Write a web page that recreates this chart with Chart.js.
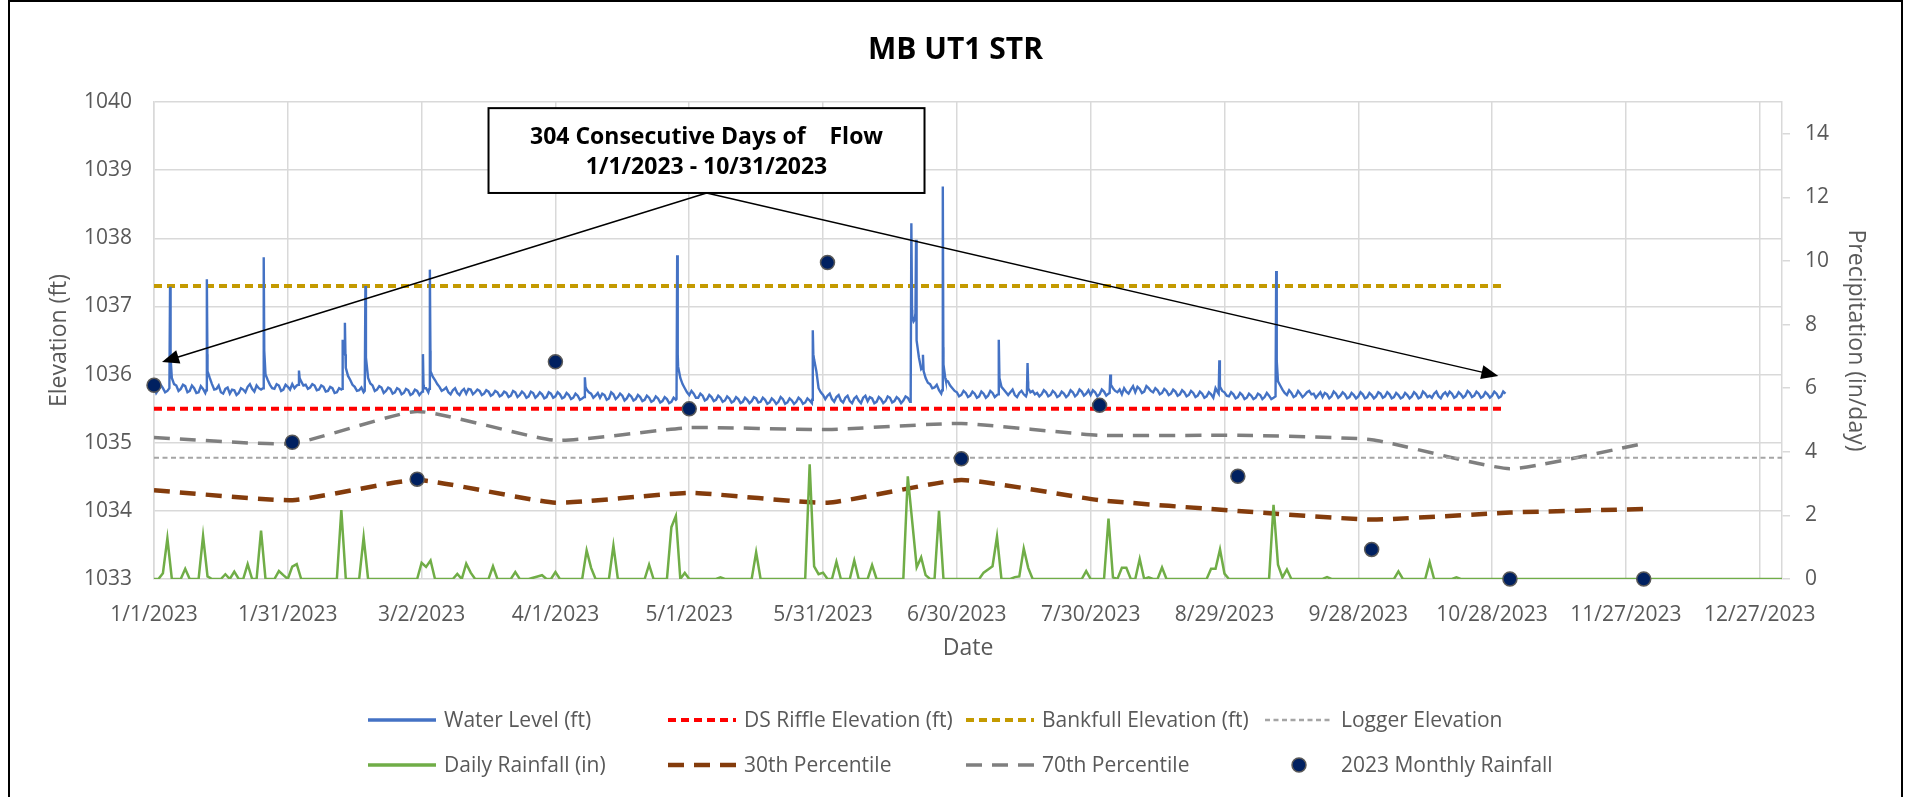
<!DOCTYPE html>
<html>
<head>
<meta charset="utf-8">
<title>MB UT1 STR</title>
<script src="https://cdn.jsdelivr.net/npm/chart.js@4.4.1/dist/chart.umd.min.js"></script>
<style>
  body { margin: 0; background: #fff; }
  canvas { display: block; }
</style>
</head>
<body>
<canvas id="myChart" width="1911" height="797"></canvas>
<script>
const FONT = "'Open Sans', sans-serif";
const startDate = Date.UTC(2023, 0, 1);

// water level (ft), morning reading per day, day 0 = 1/1/2023
const levelBase = [
  1035.83, 1035.78, 1035.80, 1035.76, 1035.95, 1035.84, 1035.79, 1035.83, 1035.76, 1035.80,
  1035.74, 1035.79, 1036.05, 1035.86, 1035.79, 1035.74, 1035.79, 1035.72, 1035.77, 1035.73,
  1035.78, 1035.82, 1035.79, 1035.84, 1035.78, 1036.00, 1035.85, 1035.79, 1035.84, 1035.78,
  1035.82, 1035.86, 1035.84, 1035.90, 1035.85, 1035.81, 1035.84, 1035.78, 1035.82, 1035.76,
  1035.80, 1035.74, 1035.78, 1036.10, 1035.92, 1035.82, 1035.77, 1035.74, 1035.95, 1035.84,
  1035.78, 1035.81, 1035.76, 1035.79, 1035.74, 1035.78, 1035.73, 1035.77, 1035.72, 1035.76,
  1035.74, 1035.80, 1036.05, 1035.92, 1035.82, 1035.78, 1035.74, 1035.77, 1035.73, 1035.76,
  1035.72, 1035.78, 1035.74, 1035.76, 1035.72, 1035.75, 1035.71, 1035.74, 1035.70, 1035.73,
  1035.69, 1035.74, 1035.70, 1035.72, 1035.68, 1035.73, 1035.69, 1035.71, 1035.67, 1035.72,
  1035.68, 1035.71, 1035.67, 1035.70, 1035.66, 1035.69, 1035.65, 1035.78, 1035.72, 1035.69,
  1035.66, 1035.70, 1035.65, 1035.71, 1035.67, 1035.69, 1035.65, 1035.68, 1035.64, 1035.67,
  1035.63, 1035.66, 1035.62, 1035.65, 1035.61, 1035.64, 1035.60, 1035.63, 1035.95, 1035.80,
  1035.70, 1035.72, 1035.66, 1035.69, 1035.64, 1035.67, 1035.63, 1035.66, 1035.62, 1035.65,
  1035.61, 1035.64, 1035.60, 1035.63, 1035.61, 1035.65, 1035.60, 1035.63, 1035.59, 1035.62,
  1035.60, 1035.64, 1035.59, 1035.62, 1035.60, 1035.63, 1035.59, 1035.62, 1036.22, 1035.80,
  1035.70, 1035.69, 1035.64, 1035.67, 1035.62, 1035.66, 1035.61, 1035.65, 1035.62, 1035.66,
  1035.61, 1035.65, 1035.60, 1035.64, 1035.61, 1035.66, 1035.61, 1035.64, 1035.62, 1035.66,
  1036.85, 1036.50, 1036.08, 1035.95, 1035.86, 1035.81, 1035.77, 1036.15, 1035.90, 1035.80,
  1035.74, 1035.70, 1035.73, 1035.69, 1035.72, 1035.68, 1035.72, 1035.69, 1035.73, 1035.70,
  1035.82, 1035.74, 1035.74, 1035.70, 1035.73, 1035.71, 1035.80, 1035.76, 1035.73, 1035.71,
  1035.74, 1035.70, 1035.73, 1035.69, 1035.72, 1035.70, 1035.74, 1035.71, 1035.75, 1035.72,
  1035.70, 1035.74, 1035.71, 1035.75, 1035.72, 1035.80, 1035.74, 1035.71, 1035.75, 1035.78,
  1035.74, 1035.79, 1035.75, 1035.80, 1035.74, 1035.77, 1035.73, 1035.76, 1035.72, 1035.75,
  1035.71, 1035.74, 1035.70, 1035.73, 1035.69, 1035.72, 1035.68, 1035.71, 1035.80, 1035.82,
  1035.74, 1035.68, 1035.71, 1035.67, 1035.70, 1035.66, 1035.69, 1035.66, 1035.70, 1035.67,
  1035.69, 1035.66, 1035.90, 1035.78, 1035.70, 1035.73, 1035.69, 1035.72, 1035.70, 1035.76,
  1035.72, 1035.70, 1035.67, 1035.71, 1035.68, 1035.72, 1035.69, 1035.71, 1035.67, 1035.70,
  1035.68, 1035.71, 1035.67, 1035.70, 1035.68, 1035.72, 1035.68, 1035.71, 1035.67, 1035.70,
  1035.67, 1035.70, 1035.68, 1035.71, 1035.67, 1035.72, 1035.69, 1035.72, 1035.68, 1035.71,
  1035.69, 1035.72, 1035.68, 1035.71, 1035.69, 1035.73, 1035.69, 1035.72, 1035.68, 1035.71,
  1035.69, 1035.72, 1035.68, 1035.72
];

// evening reading, day i + 0.5 (null where a storm point covers it)
const levelHalf = [
  1035.73, 1035.85, 1035.74, null, 1035.86, 1035.76, 1035.85, 1035.74, 1035.84, 1035.73,
  1035.83, 1035.73, 1035.95, 1035.78, 1035.84, 1035.72, 1035.81, 1035.78, 1035.70, 1035.80,
  1035.74, 1035.86, 1035.75, 1035.80, null, 1035.92, 1035.80, 1035.86, 1035.76, 1035.85,
  1035.78, 1035.80, null, 1035.84, 1035.79, 1035.86, 1035.77, 1035.84, 1035.75, 1035.82,
  1035.73, 1035.80, 1036.38, 1035.98, 1035.85, 1035.76, 1035.81, null, 1035.87, 1035.76,
  1035.83, 1035.73, 1035.81, 1035.72, 1035.80, 1035.71, 1035.79, 1035.70, 1035.78, 1035.70,
  1035.80, 1035.74, 1035.97, 1035.86, 1035.76, 1035.81, 1035.71, 1035.80, 1035.70, 1035.79,
  1035.79, 1035.71, 1035.78, 1035.70, 1035.77, 1035.69, 1035.76, 1035.68, 1035.75, 1035.67,
  1035.76, 1035.67, 1035.75, 1035.66, 1035.75, 1035.66, 1035.74, 1035.65, 1035.74, 1035.66,
  1035.74, 1035.65, 1035.73, 1035.64, 1035.72, 1035.63, null, 1035.74, 1035.66, 1035.73,
  1035.72, 1035.63, 1035.74, 1035.64, 1035.72, 1035.62, 1035.71, 1035.62, 1035.70, 1035.61,
  1035.69, 1035.60, 1035.68, 1035.59, 1035.67, 1035.58, 1035.66, 1036.12, 1035.86, 1035.74,
  1035.76, 1035.66, 1035.72, 1035.62, 1035.70, 1035.61, 1035.69, 1035.60, 1035.68, 1035.59,
  1035.67, 1035.58, 1035.66, 1035.58, 1035.67, 1035.59, 1035.66, 1035.57, 1035.65, 1035.57,
  1035.67, 1035.57, 1035.65, 1035.57, 1035.66, 1035.57, 1035.65, 1035.58, null, 1035.74,
  1035.64, 1035.72, 1035.60, 1035.70, 1035.59, 1035.69, 1035.58, 1035.68, 1035.58, 1035.69,
  1035.67, 1035.58, 1035.67, 1035.58, 1035.68, 1035.59, 1035.67, 1035.58, 1035.68, 1035.60,
  1036.80, null, null, 1035.88, 1035.80, 1035.85, 1035.72, 1035.92, 1035.84, 1035.76,
  1035.68, 1035.76, 1035.67, 1035.75, 1035.66, 1035.75, 1035.66, 1035.76, 1035.67, null,
  1035.78, 1035.70, 1035.78, 1035.67, 1035.76, 1035.68, 1035.74, 1035.71, 1035.68, 1035.77,
  1035.68, 1035.76, 1035.67, 1035.75, 1035.67, 1035.77, 1035.68, 1035.78, 1035.69, 1035.77,
  1035.77, 1035.68, 1035.78, 1035.69, null, 1035.76, 1035.78, 1035.80, 1035.72, 1035.83,
  1035.82, 1035.73, 1035.83, 1035.76, 1035.80, 1035.71, 1035.79, 1035.70, 1035.78, 1035.69,
  1035.77, 1035.68, 1035.76, 1035.67, 1035.75, 1035.66, 1035.74, 1035.66, 1035.74, 1035.76,
  1035.69, 1035.74, 1035.65, 1035.73, 1035.64, 1035.72, 1035.64, 1035.72, 1035.64, 1035.73,
  1035.64, null, 1035.84, 1035.73, 1035.77, 1035.67, 1035.76, 1035.67, 1035.74, 1035.71,
  1035.66, 1035.74, 1035.73, 1035.65, 1035.75, 1035.66, 1035.74, 1035.65, 1035.73, 1035.65,
  1035.74, 1035.65, 1035.73, 1035.65, 1035.74, 1035.66, 1035.74, 1035.65, 1035.73, 1035.65,
  1035.73, 1035.65, 1035.74, 1035.65, 1035.75, 1035.67, 1035.66, 1035.75, 1035.65, 1035.74,
  1035.75, 1035.66, 1035.74, 1035.66, 1035.76, 1035.67, 1035.75, 1035.66, 1035.74, 1035.66,
  1035.75, 1035.66, 1035.75
];

// storm peaks between the regular readings
const stormDays = [
  3.45, 3.6, 3.72, 11.7, 11.85, 11.97, 24.45, 24.6, 24.72, 32.35, 32.5, 32.65,
  42.15, 42.3, 42.42, 42.65, 42.8, 42.92, 47.25, 47.4, 47.52, 60.15, 60.3, 60.42,
  61.7, 61.85, 61.97, 96.45, 96.6, 96.75, 117.15, 117.3, 117.42,
  147.55, 147.7, 147.82, 148.5,
  169.65, 169.8, 169.95, 170.3, 170.72, 170.85, 170.95, 171.5, 172.25, 172.4, 172.55,
  176.7, 176.85, 176.97, 177.4, 189.25, 189.4, 189.55, 195.7, 195.85, 195.97,
  214.25, 214.4, 214.55, 238.7, 238.85, 238.97, 251.45, 251.6, 251.72
];
const stormLevels = [
  1035.80, 1037.29, 1036.25, 1035.77, 1037.40, 1036.30, 1035.80, 1037.72, 1036.35, 1035.85, 1036.06, 1035.95,
  1035.79, 1036.51, 1036.40, 1036.35, 1036.76, 1036.30, 1035.76, 1037.30, 1036.25, 1035.75, 1036.30, 1035.85,
  1035.79, 1037.54, 1036.35, 1035.67, 1035.96, 1035.82, 1035.64, 1037.75, 1036.30,
  1035.63, 1036.65, 1036.30, 1036.05,
  1035.66, 1038.22, 1036.95, 1036.78, 1036.90, 1037.98, 1036.70, 1036.25, 1036.10, 1036.29, 1036.05,
  1035.77, 1038.76, 1036.40, 1035.95, 1035.71, 1036.51, 1035.95, 1035.72, 1036.17, 1035.90,
  1035.73, 1036.00, 1035.85, 1035.72, 1036.21, 1035.90, 1035.68, 1037.52, 1036.20
];

// daily rainfall (in), day 0 .. 365
const rainDaily = [
  0, 0, 0.18, 1.28, 0, 0, 0, 0.32, 0, 0, 0, 1.35, 0.08, 0, 0, 0, 0.15, 0, 0.23, 0,
  0, 0.47, 0, 0, 1.52, 0, 0, 0, 0.25, 0.12, 0, 0.39, 0.47, 0, 0, 0, 0, 0, 0, 0,
  0, 0, 2.17, 0, 0, 0, 0, 1.31, 0, 0, 0, 0, 0, 0, 0, 0, 0, 0, 0, 0,
  0.51, 0.38, 0.58, 0, 0, 0, 0, 0, 0.16, 0, 0.48, 0.2, 0, 0, 0, 0, 0.4, 0, 0, 0,
  0, 0.22, 0, 0, 0, 0.04, 0.08, 0.12, 0, 0, 0.22, 0, 0, 0, 0, 0, 0, 0.9, 0.35, 0,
  0, 0, 0, 1.05, 0, 0, 0, 0, 0, 0, 0, 0.45, 0, 0, 0, 0, 1.63, 1.98, 0, 0.19,
  0, 0, 0, 0, 0, 0, 0, 0.05, 0, 0, 0, 0, 0, 0, 0, 0.84, 0, 0, 0, 0,
  0, 0, 0, 0, 0, 0, 0, 3.61, 0.4, 0.15, 0.2, 0, 0, 0.54, 0, 0, 0, 0.58, 0, 0,
  0, 0.44, 0, 0, 0, 0, 0, 0, 0, 3.23, 1.8, 0.37, 0.68, 0.12, 0, 0, 2.14, 0, 0, 0,
  0, 0, 0, 0, 0, 0, 0.2, 0.3, 0.4, 1.33, 0, 0, 0, 0.06, 0.08, 0.96, 0.35, 0, 0, 0,
  0, 0, 0, 0, 0, 0, 0, 0, 0, 0.25, 0, 0, 0, 0, 1.9, 0.05, 0, 0.35, 0.35, 0,
  0, 0.63, 0, 0.05, 0, 0, 0.36, 0, 0, 0, 0, 0, 0, 0, 0, 0, 0, 0.32, 0.32, 0.93,
  0.17, 0, 0, 0, 0, 0, 0, 0, 0, 0, 0, 2.33, 0.45, 0.05, 0.3, 0, 0, 0, 0, 0,
  0, 0, 0, 0.06, 0, 0, 0, 0, 0, 0, 0, 0, 0, 0, 0, 0, 0, 0, 0, 0.24,
  0, 0, 0, 0, 0, 0, 0.53, 0, 0, 0, 0, 0, 0.05, 0, 0, 0, 0, 0, 0, 0,
  0, 0, 0, 0, 0, 0, 0, 0, 0, 0, 0, 0, 0, 0, 0, 0, 0, 0, 0, 0,
  0, 0, 0, 0, 0, 0, 0, 0, 0, 0, 0, 0, 0, 0, 0, 0, 0, 0, 0, 0,
  0, 0, 0, 0, 0, 0, 0, 0, 0, 0, 0, 0, 0, 0, 0, 0, 0, 0, 0, 0,
  0, 0, 0, 0, 0, 0
];

// monthly values, plotted at the first of each month
const monthDays = [0, 31, 59, 90, 120, 151, 181, 212, 243, 273, 304, 334];
const monthlyRain = [6.09, 4.30, 3.14, 6.83, 5.35, 9.95, 3.78, 5.46, 3.23, 0.93, 0, 0];
const pct30 = [2.79, 2.48, 3.11, 2.40, 2.71, 2.40, 3.11, 2.48, 2.14, 1.87, 2.09, 2.20];
const pct70 = [4.45, 4.26, 5.27, 4.36, 4.76, 4.70, 4.89, 4.52, 4.52, 4.38, 3.47, 4.26];

const refDays = [0, 303];
const loggerDays = [0, 365];
const dsRiffle = 1035.5;
const bankfull = 1037.3;
const loggerElev = 1034.78;

// callout
const noteLines = ['304 Consecutive Days of    Flow', '1/1/2023 - 10/31/2023'];
const noteBox = { x0: 75, x1: 172.75, top: 1039.91, bottom: 1038.665 };
const arrowFrom = { x: 123.9, y: 1038.665 };
const arrowTips = [{ x: 1.8, y: 1036.185 }, { x: 301.4, y: 1035.98 }];

let levelPoints = levelBase.map((v, i) => ({ x: i, y: v }));
levelHalf.forEach((v, i) => { if (v !== null) levelPoints.push({ x: i + 0.5, y: v }); });
stormDays.forEach((d, i) => levelPoints.push({ x: d, y: stormLevels[i] }));
levelPoints.sort((a, b) => a.x - b.x);

const flat = (days, v) => days.map(d => ({ x: d, y: v }));
const byMonth = vals => monthDays.map((d, i) => ({ x: d, y: vals[i] }));

function dateLabel(v) {
  const d = new Date(startDate + v * 86400000);
  return (d.getUTCMonth() + 1) + '/' + d.getUTCDate() + '/' + d.getUTCFullYear();
}

const grey = '#595959';
const gridColor = '#D9D9D9';

// legend laid out in a 4 x 2 grid like the original
const legendCols = [368, 668, 966, 1265];
const legendRows = [720, 765];
const legendOrder = [1, 2, 3, 4, 5, 6, 7, 0];
const legendWidth = [0, 3.5, 4, 4, 2.5, 3.5, 4.5, 3.5];

const gridLegend = {
  id: 'gridLegend',
  afterDraw(chart) {
    const ctx = chart.ctx;
    ctx.save();
    ctx.font = '21px ' + FONT;
    ctx.textBaseline = 'middle';
    ctx.fillStyle = grey;
    legendOrder.forEach((idx, i) => {
      const ds = chart.data.datasets[idx];
      const x = legendCols[i % 4], y = legendRows[Math.floor(i / 4)];
      if (ds.showLine === false) {
        ctx.beginPath();
        ctx.arc(x + 34, y, ds.pointRadius, 0, Math.PI * 2);
        ctx.fillStyle = ds.pointBackgroundColor;
        ctx.fill();
        ctx.lineWidth = ds.pointBorderWidth;
        ctx.strokeStyle = ds.pointBorderColor;
        ctx.stroke();
      } else {
        ctx.beginPath();
        ctx.setLineDash(ds.borderDash || []);
        ctx.strokeStyle = ds.borderColor;
        ctx.lineWidth = legendWidth[idx];
        ctx.moveTo(x, y);
        ctx.lineTo(x + 68, y);
        ctx.stroke();
        ctx.setLineDash([]);
      }
      ctx.fillStyle = grey;
      ctx.fillText(ds.label, x + 76, y + 1);
    });
    // outer frame
    ctx.strokeStyle = '#000';
    ctx.lineWidth = 2;
    ctx.strokeRect(9, 1, 1893, 820);
    ctx.restore();
  }
};

function arrow(ctx, x0, y0, x1, y1) {
  const a = Math.atan2(y1 - y0, x1 - x0), L = 17, W = 7;
  ctx.beginPath();
  ctx.moveTo(x0, y0);
  ctx.lineTo(x1 - L * 0.6 * Math.cos(a), y1 - L * 0.6 * Math.sin(a));
  ctx.stroke();
  ctx.beginPath();
  ctx.moveTo(x1, y1);
  ctx.lineTo(x1 - L * Math.cos(a) + W * Math.sin(a), y1 - L * Math.sin(a) - W * Math.cos(a));
  ctx.lineTo(x1 - L * Math.cos(a) - W * Math.sin(a), y1 - L * Math.sin(a) + W * Math.cos(a));
  ctx.closePath();
  ctx.fill();
}

const callout = {
  id: 'callout',
  afterDatasetsDraw(chart) {
    const { ctx, scales: { x, y } } = chart;
    ctx.save();
    ctx.strokeStyle = '#000';
    ctx.fillStyle = '#000';
    ctx.lineWidth = 1.5;
    const fx = x.getPixelForValue(arrowFrom.x), fy = y.getPixelForValue(arrowFrom.y);
    arrowTips.forEach(t => arrow(ctx, fx, fy, x.getPixelForValue(t.x), y.getPixelForValue(t.y)));

    const bx0 = x.getPixelForValue(noteBox.x0), bx1 = x.getPixelForValue(noteBox.x1);
    const by0 = y.getPixelForValue(noteBox.top), by1 = y.getPixelForValue(noteBox.bottom);
    ctx.fillStyle = '#fff';
    ctx.fillRect(bx0, by0, bx1 - bx0, by1 - by0);
    ctx.lineWidth = 2;
    ctx.strokeRect(bx0, by0, bx1 - bx0, by1 - by0);
    ctx.fillStyle = '#000';
    ctx.font = 'bold 23px ' + FONT;
    ctx.textAlign = 'center';
    ctx.textBaseline = 'middle';
    const h = by1 - by0;
    ctx.fillText(noteLines[0], (bx0 + bx1) / 2, by0 + h * 0.34);
    ctx.fillText(noteLines[1], (bx0 + bx1) / 2, by0 + h * 0.7);
    ctx.restore();
  }
};

const myChart = document.getElementById('myChart');

new Chart(myChart, {
  type: 'line',
  data: {
    datasets: [
      {
        label: '2023 Monthly Rainfall', data: byMonth(monthlyRain), yAxisID: 'y2',
        showLine: false, pointRadius: 7, pointBackgroundColor: '#002060',
        pointBorderColor: '#595959', pointBorderWidth: 1.5, clip: false
      },
      {
        label: 'Water Level (ft)', data: levelPoints, yAxisID: 'y',
        borderColor: '#4472C4', borderWidth: 2.4, pointRadius: 0
      },
      {
        label: 'DS Riffle Elevation (ft)', data: flat(refDays, dsRiffle), yAxisID: 'y',
        borderColor: '#FF0000', borderWidth: 4, borderDash: [8, 5], pointRadius: 0
      },
      {
        label: 'Bankfull Elevation (ft)', data: flat(refDays, bankfull), yAxisID: 'y',
        borderColor: '#C49A00', borderWidth: 4, borderDash: [8, 5], pointRadius: 0
      },
      {
        label: 'Logger Elevation', data: flat(loggerDays, loggerElev), yAxisID: 'y',
        borderColor: '#A5A5A5', borderWidth: 2, borderDash: [5, 3.5], pointRadius: 0
      },
      {
        label: 'Daily Rainfall (in)', data: rainDaily.map((v, i) => ({ x: i, y: v })), yAxisID: 'y2',
        borderColor: '#70AD47', borderWidth: 2.5, pointRadius: 0
      },
      {
        label: '30th Percentile', data: byMonth(pct30), yAxisID: 'y2',
        borderColor: '#843C0C', borderWidth: 4.5, borderDash: [16, 10], tension: 0.15, pointRadius: 0
      },
      {
        label: '70th Percentile', data: byMonth(pct70), yAxisID: 'y2',
        borderColor: '#7F7F7F', borderWidth: 3.5, borderDash: [16, 10], tension: 0.15, pointRadius: 0
      }
    ]
  },
  options: {
    responsive: false,
    animation: false,
    devicePixelRatio: 1,
    events: [],
    layout: { padding: { left: 0, right: 0, top: 0, bottom: 128 } },
    plugins: {
      legend: { display: false },
      tooltip: { enabled: false },
      title: {
        display: true, text: 'MB UT1 STR', color: '#000',
        font: { family: FONT, size: 30, weight: 'bold' },
        padding: { top: 32, bottom: 34 }
      }
    },
    scales: {
      x: {
        type: 'linear', min: 0, max: 365,
        afterFit: s => { s.height = 90; },
        grid: { color: gridColor, lineWidth: 1.5, drawTicks: false },
        border: { display: false },
        ticks: {
          stepSize: 30, includeBounds: false, autoSkip: false, maxRotation: 0,
          padding: 23, color: grey, font: { family: FONT, size: 21 },
          callback: v => dateLabel(v)
        },
        title: {
          display: true, text: 'Date', color: grey,
          font: { family: FONT, size: 23 }, padding: { top: 0, bottom: 7 }
        }
      },
      y: {
        position: 'left', min: 1033, max: 1040,
        afterFit: s => { s.width = 154; },
        grid: { color: gridColor, lineWidth: 1.5, drawTicks: false },
        border: { color: gridColor, width: 1.5 },
        ticks: {
          stepSize: 1, padding: 22, color: grey, font: { family: FONT, size: 21 },
          callback: v => String(v)
        },
        title: {
          display: true, text: 'Elevation (ft)', color: grey,
          font: { family: FONT, size: 23 }, padding: { top: 46, bottom: 0 }
        }
      },
      y2: {
        position: 'right', min: 0, max: 15,
        afterFit: s => { s.width = 129; },
        grid: { drawOnChartArea: false, color: gridColor, lineWidth: 1.5, tickLength: 8 },
        border: { color: gridColor, width: 1.5 },
        ticks: { stepSize: 2, includeBounds: false, padding: 15, color: grey, font: { family: FONT, size: 21 } },
        title: {
          display: true, text: 'Precipitation (in/day)', color: grey,
          font: { family: FONT, size: 23 }, padding: { top: 42, bottom: 0 }
        }
      }
    }
  },
  plugins: [callout, gridLegend]
});
</script>
</body>
</html>
